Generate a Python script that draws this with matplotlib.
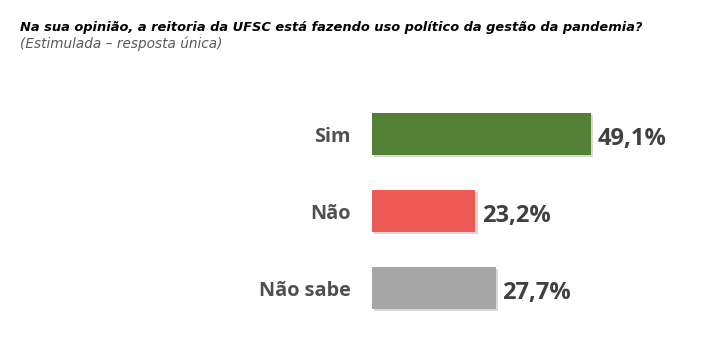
import matplotlib.pyplot as plt
import matplotlib.patheffects as pe

categories = ['Sim', 'Não', 'Não sabe']
values = [49.1, 23.2, 27.7]
colors = ['#538135', '#EE5A55', '#A6A6A6']

title = 'Na sua opinião, a reitoria da UFSC está fazendo uso político da gestão da pandemia?'
subtitle = '(Estimulada – resposta única)'

fig = plt.figure(figsize=(7.07, 3.52), dpi=100)
# axes placed so the bars land where they are in the picture
ax = fig.add_axes([372 / 707, 25.5 / 352, 267.6 / 707, 231 / 352])

ypos = range(len(categories))
bars = ax.barh(ypos, values, height=0.545, color=colors)
for b in bars:
    b.set_path_effects([pe.SimplePatchShadow(offset=(1.5, -1.5), alpha=0.18), pe.Normal()])

# value labels sit a touch below the bar centre
for y, v in zip(ypos, values):
    ax.text(v + 1.5, y + 0.06, f'{v:.1f}%'.replace('.', ','), va='center', ha='left',
            fontsize=17, fontweight='bold', color='#404040', family='Open Sans')

ax.set_xlim(0, 60)
ax.set_ylim(2.5, -0.5)
ax.set_yticks(list(ypos))
ax.set_yticklabels(categories, fontsize=14.3, fontweight='bold', color='#505050',
                   family='Open Sans')
ax.tick_params(axis='y', length=0, pad=15.5)
ax.set_xticks([])
for s in ax.spines.values():
    s.set_visible(False)

fig.text(20 / 707, 1 - 28 / 352, title, fontsize=9.4, fontweight='bold', style='italic',
         color='black', va='center', family='DejaVu Sans')
fig.text(20 / 707, 1 - 43.5 / 352, subtitle, fontsize=9.8, style='italic',
         color='#595959', va='center', family='DejaVu Sans')

fig.savefig('out.png', dpi=100)
